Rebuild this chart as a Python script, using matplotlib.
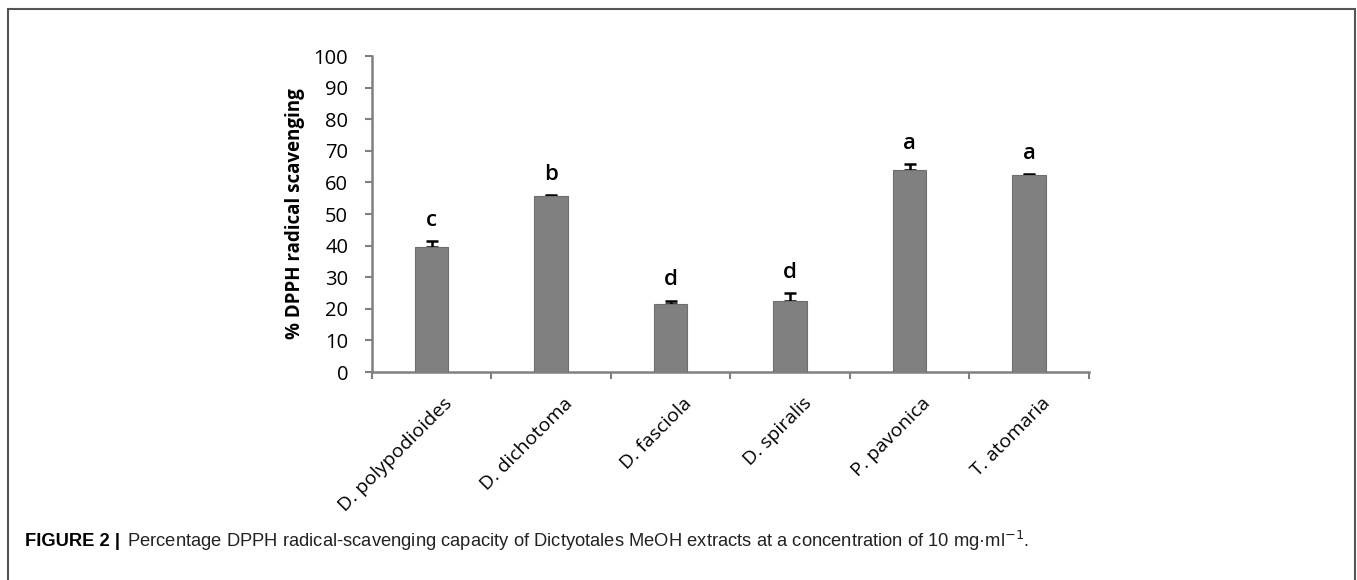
import matplotlib
matplotlib.use('Agg')
import matplotlib.pyplot as plt
import matplotlib.patches as mpatches
import matplotlib.transforms as mtransforms
import numpy as np

species = ['D. polypodioides', 'D. dichotoma', 'D. fasciola',
           'D. spiralis', 'P. pavonica', 'T. atomaria']
dpph = [39.6, 55.6, 21.6, 22.4, 64.0, 62.3]
err = [1.8, 0.5, 1.0, 2.5, 1.8, 0.4]
letters = ['c', 'b', 'd', 'd', 'a', 'a']
yticks = list(range(0, 101, 10))

plt.rcParams['font.family'] = ['Open Sans', 'DejaVu Sans']

fig = plt.figure(figsize=(13.57, 5.8), dpi=100)
ax = fig.add_axes([0.274, 0.3586, 0.5285, 0.5448])

x = np.arange(len(species))
ax.bar(x, dpph, width=0.28, color='#808080', edgecolor='#6e6e6e', linewidth=0.8, zorder=3)
ax.errorbar(x, dpph, yerr=[np.zeros(len(err)), err], fmt='none', ecolor='black',
            elinewidth=1.8, capsize=4.5, capthick=1.8, zorder=2)
for xi, v, e, l in zip(x, dpph, err, letters):
    ax.text(xi, v + e + 3.2, l, ha='center', va='bottom', fontsize=16, fontweight='semibold')

ax.set_xlim(-0.5, len(species) - 0.5)
ax.set_ylim(0, 100)
ax.set_yticks(yticks)
ax.set_yticklabels([str(t) for t in yticks], fontsize=14.5)
ax.set_xticks(np.arange(len(species) + 1) - 0.5)
ax.set_xticklabels([])
ax.set_xticks(x, minor=True)
ax.set_xticklabels(species, minor=True, rotation=45, ha='right', rotation_mode='anchor', fontsize=14)
ax.tick_params(axis='x', which='minor', length=0, pad=16)
ax.tick_params(axis='x', which='major', length=5, width=1.5, color='#808080', direction='out')
ax.tick_params(axis='y', length=5, width=1.5, color='#808080', pad=12)
ax.set_ylabel('% DPPH radical scavenging', fontsize=13.5, fontweight='bold', labelpad=6)

# nudge rotated labels a little to the right, as in the original
shift = mtransforms.ScaledTranslation(12 / 100, 0, fig.dpi_scale_trans)
for lab in ax.get_xticklabels(minor=True):
    lab.set_transform(lab.get_transform() + shift)

for s in ['top', 'right']:
    ax.spines[s].set_visible(False)
for s in ['left', 'bottom']:
    ax.spines[s].set_color('#808080')
    ax.spines[s].set_linewidth(1.8)

# outer frame
frame = mpatches.Rectangle((8 / 1357, -0.05), 1347 / 1357, 1 - 9 / 580 + 0.05,
                           transform=fig.transFigure, fill=False,
                           edgecolor='#555555', linewidth=1.5)
fig.patches.append(frame)

fig.text(25 / 1357, 1 - 541 / 580, 'FIGURE 2 |', fontsize=13.2, fontweight='bold',
         family=['Liberation Sans', 'DejaVu Sans'], va='center')
fig.text(127 / 1357, 1 - 541 / 580,
         'Percentage DPPH radical-scavenging capacity of Dictyotales MeOH extracts at a concentration of 10 mg·ml$^{-1}$.',
         fontsize=13.2, family=['Liberation Sans', 'DejaVu Sans'], va='center', color='#222222')

plt.savefig('out.png', dpi=100)
plt.close()
